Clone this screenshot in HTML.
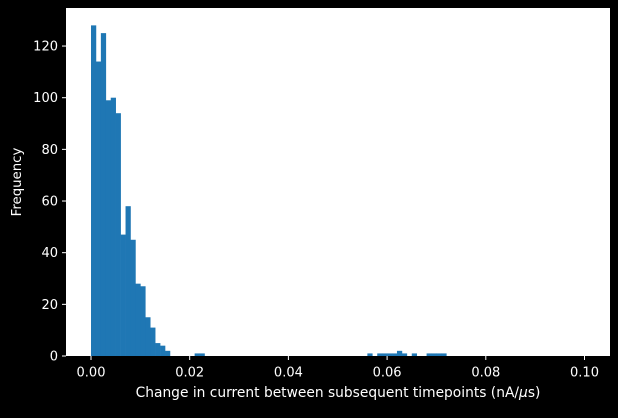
<!DOCTYPE html>
<html><head><meta charset="utf-8"><style>
html,body{margin:0;padding:0;background:#000;}
svg text{font-family:"DejaVu Sans","Liberation Sans",sans-serif;fill:#fff;}
</style></head><body>
<svg id="chart" width="618" height="413" xmlns="http://www.w3.org/2000/svg">
<rect x="0" y="0" width="618" height="413" fill="#000"/>
<rect x="66" y="8" width="544" height="348" fill="#fff"/>
<g id="bars"></g><g id="axes"></g>
<text x="338" y="397" font-size="13.8" text-anchor="middle">Change in current between subsequent timepoints (nA/<tspan font-style="italic">μ</tspan>s)</text>
<text x="0" y="0" font-size="13.3" text-anchor="middle" transform="translate(21,182) rotate(-90)">Frequency</text>
</svg>
<script>
const binStarts = [0,0.001,0.002,0.003,0.004,0.005,0.006,0.007,0.008,0.009,0.010,0.011,0.012,0.013,0.014,0.015,0.021,0.022,0.056,0.058,0.059,0.060,0.061,0.062,0.063,0.065,0.068,0.069,0.070,0.071];
const counts = [128,114,125,99,100,94,47,58,45,28,27,15,11,5,4,2,1,1,1,1,1,1,1,2,1,1,1,1,1,1];
const binWidth = 0.001;
const xTicks = [0,0.02,0.04,0.06,0.08,0.10];
const xTickLabels = ["0.00","0.02","0.04","0.06","0.08","0.10"];
const yTicks = [0,20,40,60,80,100,120];
const NS="http://www.w3.org/2000/svg";
function xs(v){return 91+v*4935;}
function ys(v){return 356-v*2.583;}
const bars=document.getElementById('bars'), axes=document.getElementById('axes');
binStarts.forEach((b,i)=>{
  const r=document.createElementNS(NS,'rect');
  r.setAttribute('x',xs(b));r.setAttribute('width',xs(b+binWidth)-xs(b)+0.3);
  r.setAttribute('y',ys(counts[i]));r.setAttribute('height',356-ys(counts[i]));
  r.setAttribute('fill','#1f77b4');
  
  
  bars.appendChild(r);
});
xTicks.forEach((t,i)=>{
  const l=document.createElementNS(NS,'line');
  l.setAttribute('x1',xs(t));l.setAttribute('x2',xs(t));l.setAttribute('y1',356);l.setAttribute('y2',360);
  l.setAttribute('stroke','#fff');
  
  
  axes.appendChild(l);
  const tx=document.createElementNS(NS,'text');
  tx.setAttribute('x',xs(t));tx.setAttribute('y',376.5);tx.setAttribute('font-size','13');tx.setAttribute('text-anchor','middle');
  tx.textContent=xTickLabels[i];
  
  
  axes.appendChild(tx);
});
yTicks.forEach(t=>{
  const l=document.createElementNS(NS,'line');
  l.setAttribute('x1',62);l.setAttribute('x2',66);l.setAttribute('y1',ys(t));l.setAttribute('y2',ys(t));
  l.setAttribute('stroke','#fff');
  
  
  axes.appendChild(l);
  const tx=document.createElementNS(NS,'text');
  tx.setAttribute('x',58);tx.setAttribute('y',ys(t)+4.5);tx.setAttribute('font-size','13');tx.setAttribute('text-anchor','end');
  tx.textContent=t;
  
  
  axes.appendChild(tx);
});
</script>
</body></html>
